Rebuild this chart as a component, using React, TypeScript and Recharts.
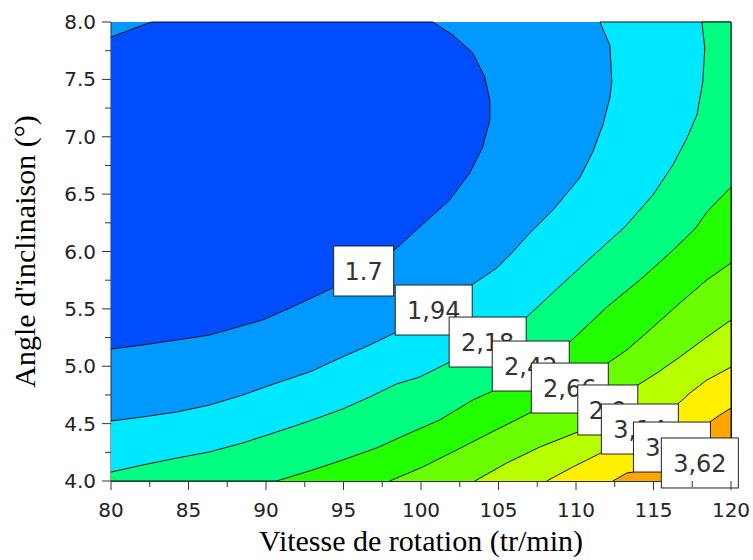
import React from 'react'
import { ComposedChart, Scatter, XAxis, YAxis, CartesianGrid } from 'recharts'

// axes
const xDomain = [80, 120]
const yDomain = [4, 8]
const xTicks = [80, 82.5, 85, 87.5, 90, 92.5, 95, 97.5, 100, 102.5, 105, 107.5, 110, 112.5, 115, 117.5, 120]
const yTicks = [4, 4.25, 4.5, 4.75, 5, 5.25, 5.5, 5.75, 6, 6.25, 6.5, 6.75, 7, 7.25, 7.5, 7.75, 8]

// contour lines, [vitesse, angle]
const level170 = [
  [80, 5.15], [82.03, 5.185], [84.23, 5.229], [86.36, 5.272], [89.78, 5.403], [91.98, 5.534],
  [94.3, 5.682], [96.37, 5.856], [98.43, 6.03], [99.92, 6.214], [101.85, 6.449], [103.14, 6.684],
  [103.98, 6.911], [104.44, 7.146], [104.44, 7.32], [104.11, 7.521], [103.34, 7.73], [102.05, 7.887],
  [100.76, 8.0],
]
const level170Corner = [[82.6, 8.0], [80, 7.869]]
const level194 = [
  [80, 4.523], [82.03, 4.558], [84.23, 4.601], [86.36, 4.662], [88.49, 4.749], [90.68, 4.854],
  [92.81, 4.95], [94.94, 5.081], [96.69, 5.185], [98.3, 5.29], [100.8, 5.49], [103.27, 5.708],
  [104.89, 5.856], [105.92, 5.996], [107.02, 6.161], [108.5, 6.36], [110.24, 6.641], [111.08, 6.867],
  [111.73, 7.102], [112.18, 7.338], [112.31, 7.477], [112.25, 7.65], [112.18, 7.8], [111.54, 8.0],
]
const level218 = [
  [80, 4.078], [82.03, 4.139], [84.23, 4.2], [86.36, 4.253], [88.49, 4.331], [90.68, 4.427],
  [92.81, 4.523], [94.94, 4.627], [96.69, 4.732], [98.43, 4.846], [99.92, 4.906], [101.73, 5.028],
  [104.3, 5.211], [106.82, 5.429], [107.66, 5.534], [108.76, 5.673], [111.08, 5.961], [113.15, 6.214],
  [114.96, 6.492], [116.25, 6.754], [117.16, 6.989], [117.8, 7.19], [118.18, 7.477], [118.31, 7.773],
  [118.12, 8.0],
]
const level242 = [
  [90.68, 4.0], [93.01, 4.096], [94.94, 4.183], [97.14, 4.288], [99.27, 4.418], [101.21, 4.532],
  [103.34, 4.706], [104.63, 4.784], [107.08, 5.0], [109.6, 5.211], [111.99, 5.516], [114.12, 5.752],
  [116.06, 5.987], [117.67, 6.196], [118.44, 6.344], [120, 6.562],
]
const level266 = [
  [97.98, 4.0], [100.11, 4.122], [102.3, 4.27], [104.44, 4.418], [107.02, 4.593], [109.6, 4.81],
  [112.05, 5.028], [113.28, 5.142], [114.76, 5.316], [116.7, 5.551], [118.44, 5.752], [120, 5.9],
]
const level290 = [
  [103.47, 4.0], [105.53, 4.157], [107.66, 4.296], [110.11, 4.427], [112.05, 4.619], [113.99, 4.837],
  [115.22, 4.941], [116.7, 5.081], [118.44, 5.255], [120, 5.403],
]
const level314 = [
  [108.11, 4.0], [109.79, 4.122], [111.6, 4.244], [114.12, 4.453], [116.57, 4.671], [117.35, 4.767],
  [118.44, 4.88], [120, 4.993],
]
const level338 = [
  [112.38, 4.0], [113.28, 4.07], [113.73, 4.078], [116.19, 4.296], [118.63, 4.514], [119.28, 4.575],
  [120, 4.636],
]

// contour labels
const labelTexts = ['1.7', '1,94', '2,18', '2,42', '2,66', '2,9', '3,14', '3,38', '3,62']
const labelX = [96.3, 100.82, 104.3, 107.08, 109.6, 112.05, 114.12, 116.19, 117.99]
const labelY = [5.83, 5.49, 5.211, 5.002, 4.81, 4.619, 4.453, 4.296, 4.157]

const baseColor = '#0099FF'
const regionColors = ['#004DFF', '#00E8FF', '#00FF80', '#22FF00', '#6AFF00', '#B8FF00', '#FFF000', '#FFA500']

const toPoints = (pts: number[][]) => pts.map(([x, y]) => ({ x, y }))

// area on the high side of a contour, closed along the plot edges
const regionPolygon = (pts: number[][]) => {
  const first = pts[0]
  const last = pts[pts.length - 1]
  const out = [...pts]
  if (last[1] >= yDomain[1]) out.push([xDomain[1], yDomain[1]])
  out.push([xDomain[1], yDomain[0]])
  if (first[0] <= xDomain[0]) out.push([xDomain[0], yDomain[0]])
  return toPoints(out)
}

const regions = [
  toPoints([...level170, ...level170Corner]),
  regionPolygon(level194),
  regionPolygon(level218),
  regionPolygon(level242),
  regionPolygon(level266),
  regionPolygon(level290),
  regionPolygon(level314),
  regionPolygon(level338),
]

const labelData = labelTexts.map((text, i) => ({ x: labelX[i], y: labelY[i], text }))

const tickFont = { fontFamily: 'DejaVu Sans', fontSize: 20, fill: '#222' }

const Empty = () => <g />

const LabelBox = (props: any) => {
  const { cx, cy, payload } = props
  const w = payload.text.length * 17 + 9
  const h = 50
  return (
    <g>
      <rect x={cx - w / 2} y={cy - h / 2} width={w} height={h} fill="#fff" stroke="#222" strokeWidth={1} />
      <text x={cx} y={cy + 9} textAnchor="middle" fontFamily="DejaVu Sans" fontSize={24} fill="#333">
        {payload.text}
      </text>
    </g>
  )
}

const XTick = (props: any) => {
  const { x, y, payload } = props
  const v = payload.value
  const major = v % 5 === 0
  return (
    <g>
      <line x1={x} x2={x} y1={y} y2={y + (major ? 9 : 6)} stroke="#333" />
      {major && (
        <text x={x} y={y + 36} textAnchor="middle" {...tickFont}>
          {v}
        </text>
      )}
    </g>
  )
}

const YTick = (props: any) => {
  const { x, y, payload } = props
  const v = payload.value
  const major = Math.abs(v * 2 - Math.round(v * 2)) < 1e-6
  return (
    <g>
      <line x1={x} x2={x - (major ? 9 : 6)} y1={y} y2={y} stroke="#333" />
      {major && (
        <text x={x - 15} y={y + 7} textAnchor="end" {...tickFont}>
          {v.toFixed(1)}
        </text>
      )}
    </g>
  )
}

const XTitle = (props: any) => {
  const vb = props.viewBox
  return (
    <text x={vb.x + vb.width / 2} y={vb.y + 70} textAnchor="middle" fontFamily="Liberation Serif" fontSize={30} fill="#000">
      Vitesse de rotation (tr/min)
    </text>
  )
}

const YTitle = (props: any) => {
  const vb = props.viewBox
  const cx = vb.x + 24
  const cy = vb.y + vb.height / 2
  return (
    <text x={cx} y={cy} transform={`rotate(-90 ${cx} ${cy})`} textAnchor="middle" fontFamily="Liberation Serif" fontSize={30} fill="#000">
      Angle d'inclinaison (°)
    </text>
  )
}

export default function App() {
  return (
    <div style={{ position: 'absolute', left: 0, top: 0, width: 753, height: 560, background: '#fff' }}>
      <ComposedChart width={753} height={560} margin={{ top: 22, right: 22, left: 11, bottom: 0 }}>
        <CartesianGrid fill={baseColor} horizontal={false} vertical={false} />
        <XAxis
          type="number"
          dataKey="x"
          domain={xDomain}
          ticks={xTicks}
          interval={0}
          height={79}
          tickSize={0}
          tickMargin={0}
          tickLine={false}
          tick={XTick}
          axisLine={{ stroke: '#333' }}
          label={XTitle}
        />
        <XAxis xAxisId="top" orientation="top" type="number" domain={xDomain} height={0} tick={false} tickLine={false} axisLine={{ stroke: '#333' }} />
        <YAxis
          type="number"
          dataKey="y"
          domain={yDomain}
          ticks={yTicks}
          interval={0}
          width={100}
          tickSize={0}
          tickMargin={0}
          tickLine={false}
          tick={YTick}
          axisLine={{ stroke: '#333' }}
          label={YTitle}
        />
        <YAxis yAxisId="right" orientation="right" type="number" domain={yDomain} width={0} tick={false} tickLine={false} axisLine={{ stroke: '#333' }} />
        {regions.map((data, i) => (
          <Scatter
            key={i}
            data={data}
            shape={Empty}
            isAnimationActive={false}
            line={{ stroke: '#111', strokeWidth: 1, fill: regionColors[i] }}
            lineJointType="linear"
          />
        ))}
        <Scatter data={labelData} shape={LabelBox} isAnimationActive={false} />
      </ComposedChart>
    </div>
  )
}
